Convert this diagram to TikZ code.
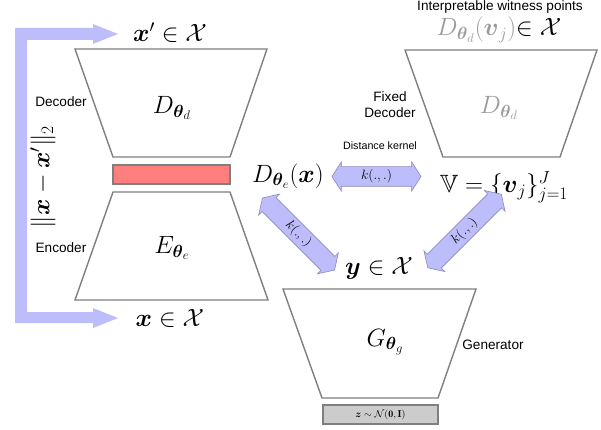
\RequirePackage{fix-cm}
\documentclass[tikz,border=0pt]{standalone}
\usepackage{amsmath,amssymb}
\usepackage{fontspec}
\newfontfamily\hel{Liberation Sans}
\usetikzlibrary{shapes.arrows}
\definecolor{arrblue}{HTML}{BDBDFB}
\definecolor{arredge}{HTML}{8A8AB8}
\definecolor{trapgray}{HTML}{7F7F7F}
\definecolor{txtgray}{HTML}{9A9A9A}
\definecolor{latent}{HTML}{FF7F7F}
\definecolor{zgray}{HTML}{CCCCCC}
\newcommand\mbig{\fontsize{25}{29}\selectfont}
\newcommand\slab{\fontsize{13.6}{16}\selectfont\hel}
\tikzset{
  trap/.style={draw=trapgray, line width=1.4pt, fill=white},
  mathlab/.style={inner sep=0pt, font=\mbig},
  sanslab/.style={inner sep=0pt, font=\slab, align=center},
  kernarrow/.style={double arrow, draw=arredge, fill=arrblue, line width=0.6pt,
     inner xsep=0pt, inner ysep=0pt, text height=12.9pt, text depth=6.1pt,
     double arrow head extend=5pt, double arrow tip angle=115,
     font=\fontsize{13.5}{15}\selectfont},
}
\begin{document}
\begin{tikzpicture}[x=1pt,y=-1pt]
\useasboundingbox (0,0) rectangle (601,430);
% reconstruction loss arrow
\fill[arrblue] (118,34) -- (93,24) -- (93,28) -- (15,28) -- (15,323) -- (93,323)
  -- (93,328) -- (118,318) -- (93,308) -- (93,312) -- (27,312) -- (27,40)
  -- (93,40) -- (93,44) -- cycle;
\node[mathlab, rotate=90] (norm) at (43,177) {$\|\boldsymbol{x}-\boldsymbol{x}'\|_2$};
% autoencoder
\draw[trap] (75,49) -- (267,49) -- (230,157) -- (113,157) -- cycle;
\draw[draw=trapgray, line width=1.4pt, fill=latent] (113,165) rectangle (230,184);
\draw[trap] (113,192) -- (230,192) -- (268,300) -- (75,300) -- cycle;
\node[mathlab] (xp) at (170,33) {$\boldsymbol{x}'\in\mathcal{X}$};
\node[mathlab] (x) at (170,318) {$\boldsymbol{x}\in\mathcal{X}$};
\node[mathlab] (Dd) at (172,108) {$D_{\boldsymbol{\theta}_d}$};
\node[mathlab] (Ee) at (172,248) {$E_{\boldsymbol{\theta}_e}$};
\node[sanslab] (declab) at (61,102) {Decoder};
\node[sanslab] (enclab) at (61,248) {Encoder};
% fixed decoder
\draw[trap] (405,50) -- (597,50) -- (560,157) -- (443,157) -- cycle;
\node[mathlab, text=txtgray] (Dfix) at (499,108) {$D_{\boldsymbol{\theta}_d}$};
\node[sanslab] (fixlab) at (390,105) {Fixed\\Decoder};
\node[sanslab] (witlab) at (500,7) {Interpretable witness points};
\node[mathlab] (wit) at (499,30) {$\textcolor{txtgray}{D_{\boldsymbol{\theta}_d}(\boldsymbol{v}_j)}\mathord{\in}\;\mathcal{X}$};
\node[mathlab] (V) at (504,187) {$\mathbb{V}=\{\boldsymbol{v}_j\}_{j=1}^{J}$};
\node[mathlab] (Dex) at (288,176) {$D_{\boldsymbol{\theta}_e}(\boldsymbol{x})$};
% generator
\draw[trap] (283,289) -- (476,289) -- (438,398) -- (322,398) -- cycle;
\draw[draw=trapgray, line width=1.4pt, fill=zgray] (323,405) rectangle (438,424);
\node[inner sep=0pt, font=\fontsize{10}{12}\selectfont] (z) at (380.5,414.5) {$\boldsymbol{z}\sim\mathcal{N}(\mathbf{0},\mathbf{I})$};
\node[mathlab] (G) at (385,342) {$G_{\boldsymbol{\theta}_g}$};
\node[mathlab] (y) at (379,268) {$\boldsymbol{y}\in\mathcal{X}$};
\node[sanslab] (genlab) at (493,345) {Generator};
% kernel arrows
\node[kernarrow, minimum height=89pt] (k1) at (376.5,176.5) {$k(.,.)$};
\node[sanslab, font=\fontsize{10.7}{12}\selectfont\hel] (dk) at (380,146) {Distance kernel};
\node[kernarrow, minimum height=102pt, rotate=-45] (k2) at (298.5,234) {$k(.,.)$};
\node[kernarrow, minimum height=104pt, rotate=45] (k3) at (464.5,231) {$k(.,.)$};
\end{tikzpicture}
\end{document}
